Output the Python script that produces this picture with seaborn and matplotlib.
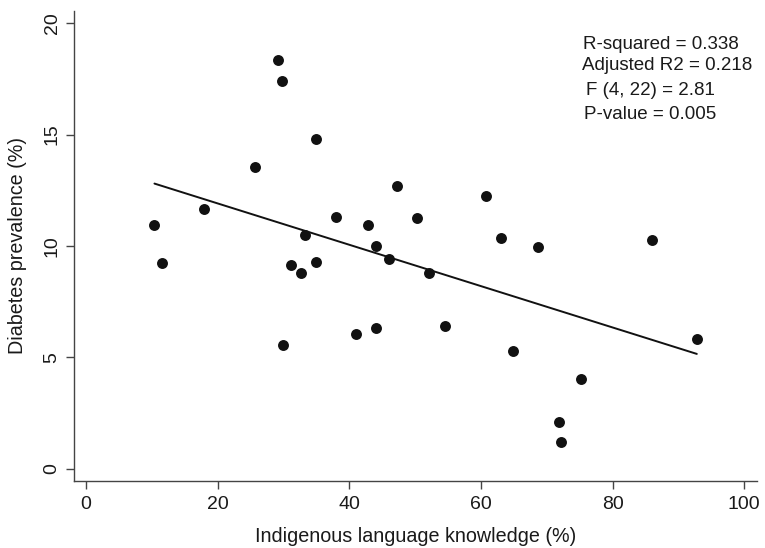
import matplotlib
matplotlib.use("Agg")
import matplotlib.pyplot as plt
import seaborn as sns
import pandas as pd

# Data
lang_knowledge = [10.4, 11.5, 18.0, 25.7, 29.1, 29.8, 35.0, 33.2, 31.1, 32.7,
                  34.9, 38.0, 42.9, 44.1, 46.1, 47.3, 50.3, 60.8, 63.1, 68.6,
                  86.0, 52.1, 30.0, 41.0, 44.1, 54.5, 64.8, 75.2, 71.8, 72.2, 92.8]
diabetes_prev = [10.95, 9.24, 11.65, 13.56, 18.33, 17.39, 14.82, 10.48, 9.14, 8.78,
                 9.27, 11.32, 10.92, 10.00, 9.42, 12.71, 11.26, 12.23, 10.38, 9.97,
                 10.27, 8.81, 5.55, 6.07, 6.34, 6.43, 5.29, 4.02, 2.11, 1.21, 5.82]
fit_x = [10.4, 92.8]
fit_y = [12.80, 5.16]
x_ticks = [0, 20, 40, 60, 80, 100]
y_ticks = [0, 5, 10, 15, 20]
stats_lines = ["R-squared = 0.338", "Adjusted R2 = 0.218", "F (4, 22) = 2.81", "P-value = 0.005"]
x_label = "Indigenous language knowledge (%)"
y_label = "Diabetes prevalence (%)"

df = pd.DataFrame({"x": lang_knowledge, "y": diabetes_prev})
fit = pd.DataFrame({"x": fit_x, "y": fit_y})

sns.set_theme(style="ticks")
plt.rcParams["font.family"] = ["Liberation Sans", "DejaVu Sans"]

W, H = 765, 548
fig = plt.figure(figsize=(W / 100, H / 100), dpi=100)
ax = fig.add_axes([73.7 / W, 1 - 481 / H, (756.7 - 73.7) / W, (481 - 11) / H])

sns.scatterplot(data=df, x="x", y="y", ax=ax, s=62, color="#111111",
                edgecolor="#111111", linewidth=0, zorder=3)
sns.lineplot(data=fit, x="x", y="y", ax=ax, color="#111111", linewidth=1.4,
             zorder=2, estimator=None)

ax.set_xlim(-1.87, 101.9)
ax.set_ylim(-0.54, 20.54)
ax.set_xticks(x_ticks)
ax.set_yticks(y_ticks)
ax.set_xticklabels([str(t) for t in x_ticks], fontsize=14, color="#1a1a1a")
ax.set_yticklabels([str(t) for t in y_ticks], fontsize=14, color="#1a1a1a",
                   rotation=90, va="center")
ax.tick_params(axis="both", direction="out", length=5.5, width=1.0,
               color="#444444", pad=4)
ax.tick_params(axis="x", pad=5)
for side in ["top", "right"]:
    ax.spines[side].set_visible(False)
for side in ["left", "bottom"]:
    ax.spines[side].set_color("#444444")
    ax.spines[side].set_linewidth(1.0)

ax.set_xlabel("")
ax.set_ylabel("")
fig.text(416 / W, 1 - 537 / H, x_label, ha="center", va="center",
         fontsize=14.2, color="#1a1a1a")
fig.text(18 / W, 1 - 245 / H, y_label, ha="center", va="center",
         rotation=90, fontsize=14.2, color="#1a1a1a")

stat_x = [583.3, 581.7, 586.0, 584.3]
stat_y = [44.3, 65.7, 90.7, 114.3]
for txt, sx, sy in zip(stats_lines, stat_x, stat_y):
    fig.text(sx / W, 1 - sy / H, txt, ha="left", va="center",
             fontsize=13.5, color="#1a1a1a")

fig.savefig("out.png", dpi=100)
